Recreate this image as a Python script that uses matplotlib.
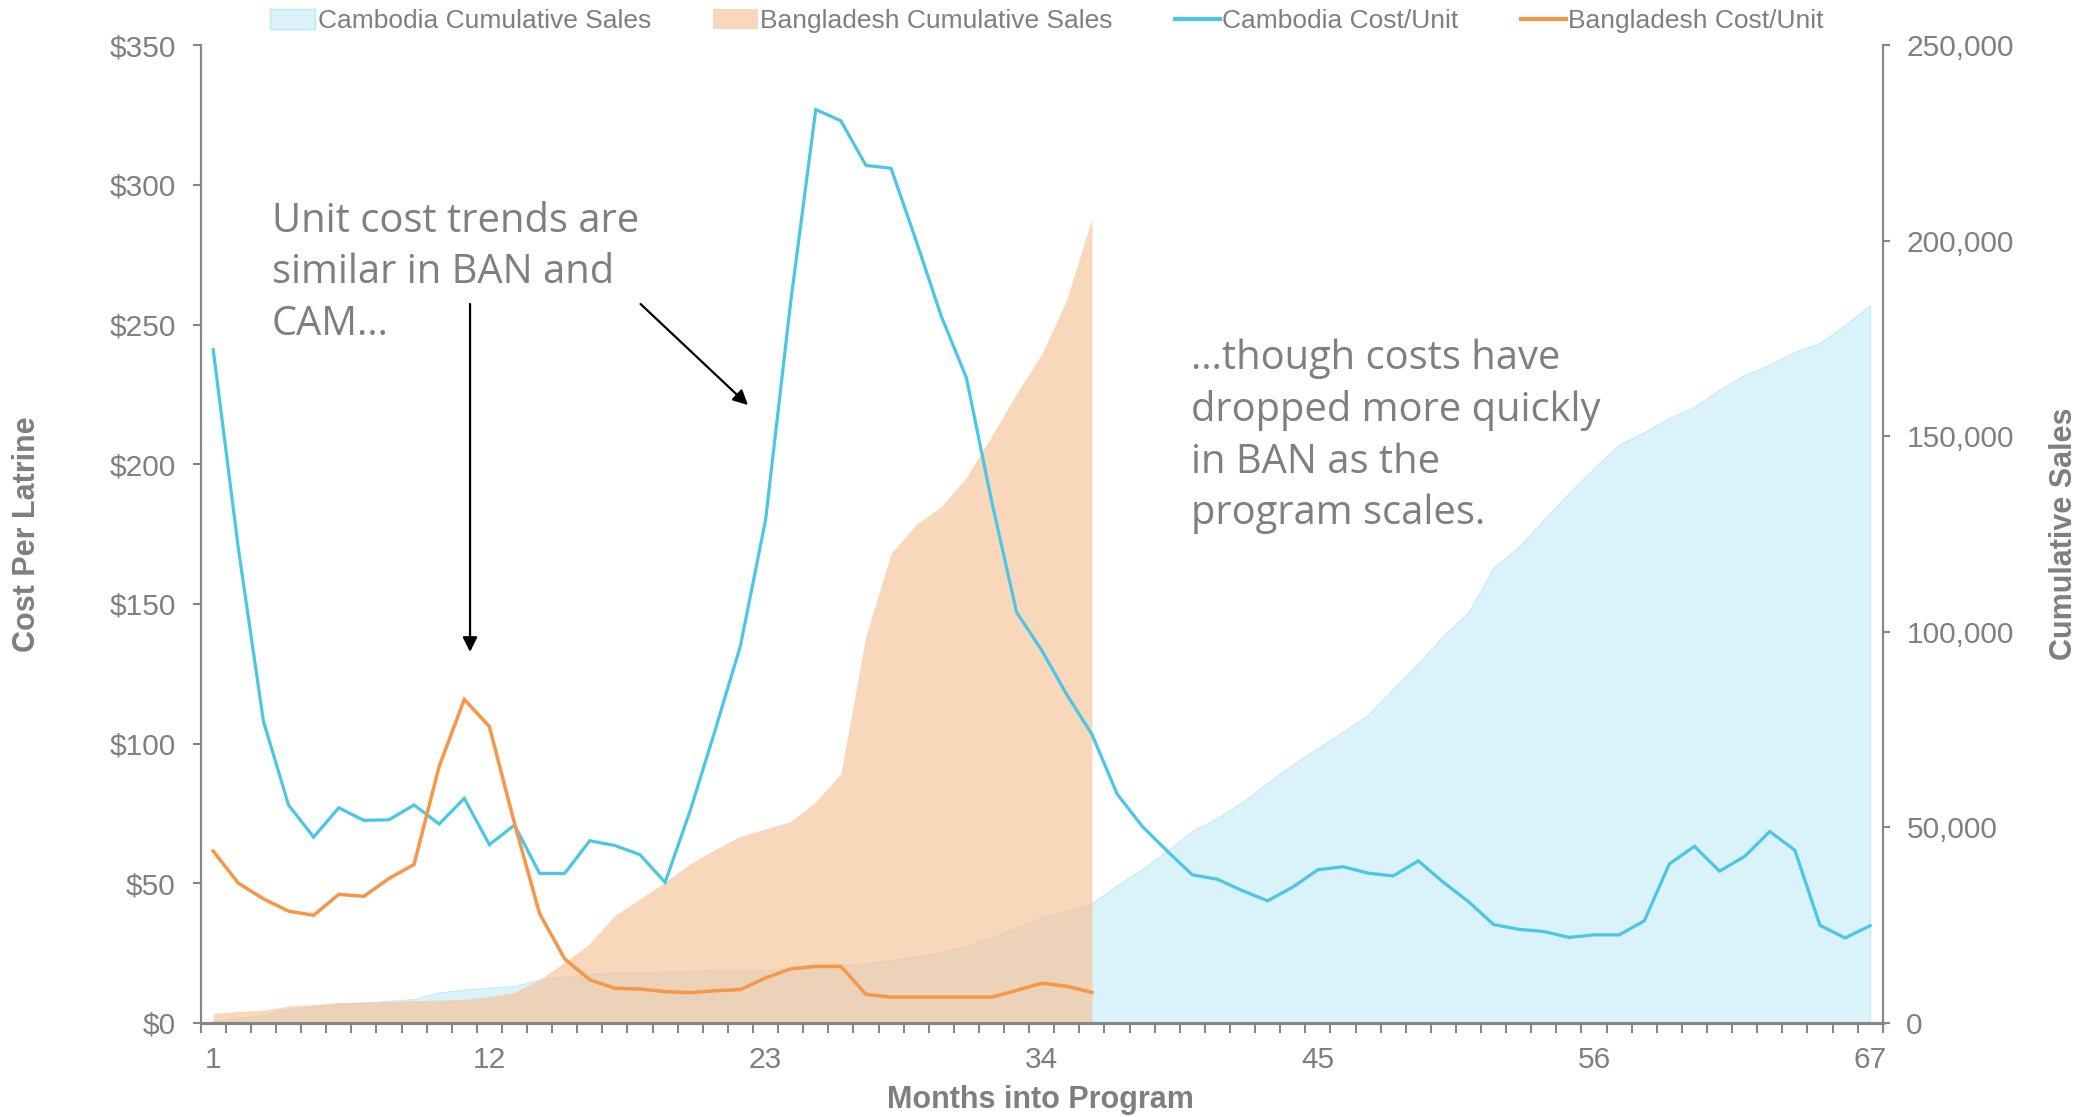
import matplotlib
matplotlib.use('Agg')
import matplotlib.pyplot as plt
from matplotlib.patches import Patch
from matplotlib.lines import Line2D
from matplotlib.ticker import FuncFormatter, FixedLocator
import numpy as np

plt.rcParams['font.family'] = ['Liberation Sans', 'DejaVu Sans']

#Data
months = np.arange(1, 68)

cam_cost = [241, 170, 108, 78, 66.5, 77, 72.5, 72.7, 78, 71.2,
            80.4, 63.8, 70.8, 53.5, 53.5, 65.2, 63.5, 60.2, 50.3, 76,
            105, 135, 180, 258, 327, 323, 307, 306, 280, 253,
            231, 187, 147, 133.4, 117.5, 103.3, 82, 70.4, 61.5, 53,
            51.4, 47.3, 43.7, 48.6, 54.8, 55.9, 53.6, 52.6, 58, 50.3,
            43.4, 35.2, 33.5, 32.7, 30.6, 31.5, 31.5, 36.5, 56.9, 63.2,
            54.3, 59.6, 68.5, 61.8, 34.9, 30.4, 34.8]

ban_cost = [61.5, 50, 44.4, 40, 38.5, 46, 45.3, 51.7, 56.7, 91.8,
            115.8, 106.1, 71.4, 39.1, 22.9, 15.4, 12.4, 12.1, 11.2, 10.8,
            11.5, 11.9, 16.1, 19.3, 20.2, 20.2, 10.2, 9.2, 9.2, 9.2,
            9.2, 9.2, 11.6, 14.2, 13.1, 10.9]

cam_sales = [500, 1200, 2000, 3600, 4300, 4900, 5200, 5600, 6100, 7800,
             8500, 9000, 9400, 11100, 11900, 12400, 12800, 13000, 13100, 13300,
             13500, 13500, 13500, 14000, 14600, 14900, 15200, 16000, 16900, 18000,
             19700, 21900, 24300, 27000, 28500, 30600, 35200, 39300, 44000, 49100,
             52400, 56500, 61400, 66100, 70300, 74500, 78800, 85400, 92000, 99000,
             105100, 116400, 121800, 128700, 135500, 141900, 147900, 151100, 154700, 157500,
             162000, 165700, 168400, 171600, 173900, 178500, 183500]

ban_sales = [2400, 2900, 3200, 4300, 4700, 5200, 5300, 5500, 5700, 5800,
             6000, 6700, 7800, 11000, 15500, 20300, 27500, 31700, 36000, 40700,
             44400, 47700, 49600, 51500, 56500, 63700, 99000, 120000, 127500, 132000,
             139500, 150000, 161000, 171000, 185000, 205700]

x_labels = [1, 12, 23, 34, 45, 56, 67]

#Colours
GREY = '#7F7F7F'
AXIS_GREY = '#868686'
CAM_LINE = '#4AC6E8'
BAN_LINE = '#F79646'
CAM_FILL = '#DAF2F9'
BAN_FILL = '#F6BF91'
BAN_ALPHA = 0.62
TICK_SIZE = 21.5

fig = plt.figure(figsize=(20.88, 11.17), dpi=100)
ax1 = fig.add_axes([0.0961, 0.0843, 0.8056, 0.8751])
ax2 = ax1.twinx()
ax1.set_zorder(ax2.get_zorder() + 1)
ax1.patch.set_visible(False)

#Cumulative sales areas (secondary axis)
ax2.fill_between(months, 0, cam_sales, color=CAM_FILL, lw=0.6, edgecolor='#BFE6F2')
ax2.fill_between(months[:len(ban_sales)], 0, ban_sales, color=BAN_FILL, alpha=BAN_ALPHA, lw=0)

#Cost per unit lines (primary axis)
ax1.plot(months, cam_cost, color=CAM_LINE, lw=2.3, solid_joinstyle='miter')
ax1.plot(months[:len(ban_cost)], ban_cost, color=BAN_LINE, lw=2.5, solid_joinstyle='miter')

ax1.set_xlim(0.5, 67.5)
ax1.set_ylim(0, 350)
ax2.set_ylim(0, 250000)

ax1.set_yticks(np.arange(0, 351, 50))
ax1.yaxis.set_major_formatter(FuncFormatter(lambda v, p: '$%d' % v))
ax2.set_yticks(np.arange(0, 250001, 50000))
ax2.yaxis.set_major_formatter(FuncFormatter(lambda v, p: '{:,}'.format(int(v))))

ax1.set_xticks(x_labels)
ax1.xaxis.set_minor_locator(FixedLocator(np.arange(0.5, 68, 1)))
ax1.tick_params(axis='x', which='major', length=0, pad=17, labelsize=TICK_SIZE, labelcolor=GREY)
ax1.tick_params(axis='x', which='minor', length=7, width=1.5, color=AXIS_GREY, direction='out')
ax1.tick_params(axis='y', length=6, width=1.5, color=AXIS_GREY, pad=12, labelsize=TICK_SIZE, labelcolor=GREY)
ax2.tick_params(axis='y', length=5, width=1.5, color=AXIS_GREY, pad=12, labelsize=TICK_SIZE, labelcolor=GREY)

for ax in [ax1, ax2]:
    ax.spines['top'].set_visible(False)
    ax.spines['left'].set_color(AXIS_GREY)
    ax.spines['right'].set_color(AXIS_GREY)
    ax.spines['left'].set_linewidth(1.5)
    ax.spines['right'].set_linewidth(1.5)
    ax.spines['bottom'].set_color(AXIS_GREY)
    ax.spines['bottom'].set_linewidth(2.2)

fig.text(0.013, 0.522, 'Cost Per Latrine', rotation=90, ha='center', va='center',
         fontsize=22, fontweight='bold', color=GREY)
fig.text(0.9885, 0.522, 'Cumulative Sales', rotation=90, ha='center', va='center',
         fontsize=22, fontweight='bold', color=GREY)
fig.text(0.4985, 0.015, 'Months into Program', ha='center', va='center',
         fontsize=22, fontweight='bold', color=GREY)

#Annotations
note_font = ['Open Sans', 'DejaVu Sans']
fig.text(0.1303, 0.820, 'Unit cost trends are\nsimilar in BAN and\nCAM…', ha='left', va='top',
         fontsize=28.7, color=GREY, family=note_font, linespacing=1.36)
fig.text(0.5703, 0.697, '…though costs have\ndropped more quickly\nin BAN as the\nprogram scales.',
         ha='left', va='top', fontsize=28.7, color=GREY, family=note_font, linespacing=1.36)

arrow_style = dict(arrowstyle='-|>', color='black', lw=1.6, mutation_scale=22, shrinkA=0, shrinkB=0)
ax1.annotate('', xy=(11.23, 132.8), xytext=(11.23, 257.4), arrowprops=arrow_style)
ax1.annotate('', xy=(22.3, 221.2), xytext=(18.02, 257.4), arrowprops=arrow_style)

#Legend
handles = [Patch(facecolor=CAM_FILL, edgecolor='#BFE6F2'),
           Patch(facecolor=BAN_FILL, alpha=BAN_ALPHA, edgecolor='none'),
           Line2D([], [], color=CAM_LINE, lw=3),
           Line2D([], [], color=BAN_LINE, lw=3)]
names = ['Cambodia Cumulative Sales', 'Bangladesh Cumulative Sales',
         'Cambodia Cost/Unit', 'Bangladesh Cost/Unit']
leg = fig.legend(handles, names, loc='center', bbox_to_anchor=(0.5014, 0.981), ncol=4,
                 frameon=False, fontsize=19, handlelength=1.7, handletextpad=0.1,
                 columnspacing=2.35, handleheight=0.8)
for t in leg.get_texts():
    t.set_color(GREY)

fig.savefig('out.png', dpi=100)
